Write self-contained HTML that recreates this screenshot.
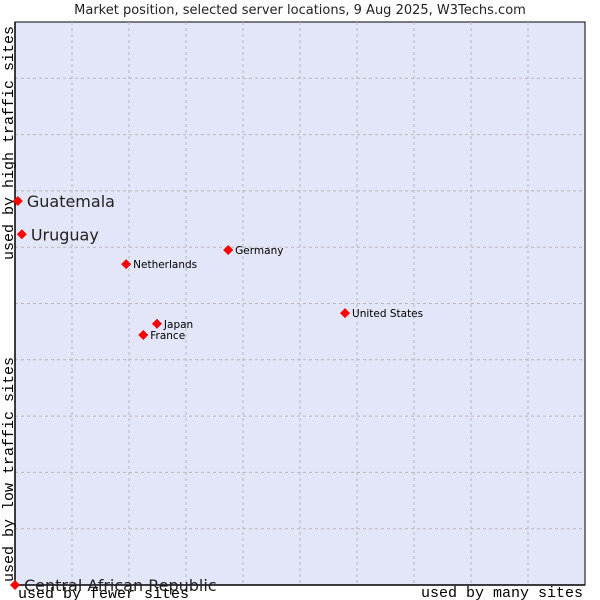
<!DOCTYPE html>
<html><head><meta charset="utf-8"><style>
body{margin:0;background:#fff;}
svg{display:block;font-family:"DejaVu Sans","Liberation Sans",sans-serif;}
</style></head><body>
<svg id="chart" width="600" height="600">
<rect x="15" y="22" width="570" height="563" fill="#e3e5f8" stroke="#000" stroke-width="1"/>
<g id="grid"></g>
<line x1="15" y1="22" x2="15" y2="585" stroke="#000" stroke-width="1.5"/>
<line x1="15" y1="585" x2="585" y2="585" stroke="#000" stroke-width="1.5"/>
<text x="300" y="14" text-anchor="middle" font-size="13" fill="#222">Market position, selected server locations, 9 Aug 2025, W3Techs.com</text>
<text transform="translate(13,260) rotate(-90)" font-family="Liberation Mono, DejaVu Sans Mono, monospace" font-size="15" fill="#000">used by high traffic sites</text>
<text transform="translate(13,582) rotate(-90)" font-family="Liberation Mono, DejaVu Sans Mono, monospace" font-size="15" fill="#000">used by low traffic sites</text>
<text x="18" y="598" font-family="Liberation Mono, DejaVu Sans Mono, monospace" font-size="15" fill="#000">used by fewer sites</text>
<text x="583" y="597" text-anchor="end" font-family="Liberation Mono, DejaVu Sans Mono, monospace" font-size="15" fill="#000">used by many sites</text>
<g id="points"></g>
</svg>
<script>
const names=["Guatemala","Uruguay","Germany","Netherlands","United States","Japan","France","Central African Republic"];
const xs=[0.5,1.2,37.4,19.5,57.9,24.9,22.5,0];
const ys=[68.2,62.3,59.5,57.0,48.3,46.4,44.4,0];
const big=[1,1,0,0,0,0,0,1];
const NS="http://www.w3.org/2000/svg";
const L=15,R=585,T=22,B=585;
const sx=v=>L+(R-L)*v/100, sy=v=>B-(B-T)*v/100;
const grid=document.getElementById('grid');
for(let i=1;i<10;i++){
 const v=document.createElementNS(NS,'line');
 v.setAttribute('x1',sx(i*10));v.setAttribute('x2',sx(i*10));v.setAttribute('y1',T);v.setAttribute('y2',B);
 v.setAttribute('stroke','#b8b8b8');v.setAttribute('stroke-dasharray','3,3');
 
 
 grid.appendChild(v);
 const h=document.createElementNS(NS,'line');
 h.setAttribute('y1',sy(i*10));h.setAttribute('y2',sy(i*10));h.setAttribute('x1',L);h.setAttribute('x2',R);
 h.setAttribute('stroke','#b8b8b8');h.setAttribute('stroke-dasharray','3,3');
 
 
 grid.appendChild(h);
}
const pts=document.getElementById('points');
names.forEach((n,i)=>{
 const x=sx(xs[i]),y=sy(ys[i]);
 const p=document.createElementNS(NS,'path');
 p.setAttribute('d',`M${x-5},${y}L${x},${y-5}L${x+5},${y}L${x},${y+5}Z`);
 p.setAttribute('fill','#f00');
 
 
 pts.appendChild(p);
 const t=document.createElementNS(NS,'text');
 t.setAttribute('x',x+(big[i]?9:7));t.setAttribute('y',y+(big[i]?6:4));
 t.setAttribute('font-size',big[i]?16:10.5);
 t.setAttribute('fill',big[i]?'#222':'#000');
 t.textContent=n;
 
 
 pts.appendChild(t);
});
</script>
</body></html>
